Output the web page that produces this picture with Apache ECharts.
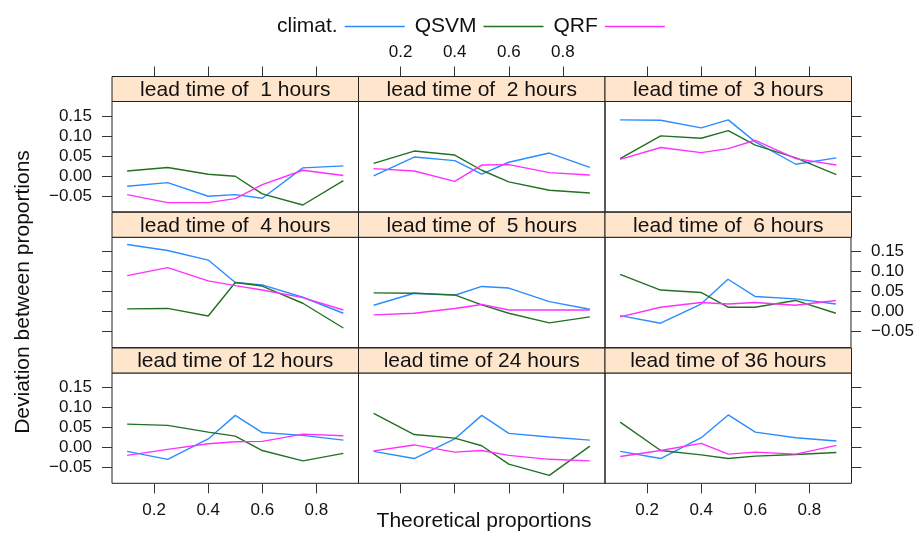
<!DOCTYPE html>
<html>
<head>
<meta charset="utf-8">
<script src="https://cdn.jsdelivr.net/npm/echarts@6/dist/echarts.min.js"></script>
<style>
  html, body { margin: 0; padding: 0; background: #fff; }
  #chart { width: 917px; height: 534px; }
</style>
</head>
<body>
<div id="chart"></div>
<script>
  // theoretical proportions (x of every point)
  const props = [0.1, 0.25, 0.4, 0.5, 0.6, 0.75, 0.9];
  const leadTimes = [1, 2, 3, 4, 5, 6, 12, 24, 36];
  const methods = ['climat.', 'QSVM', 'QRF'];
  const xTicks = [0.2, 0.4, 0.6, 0.8];
  const yTicks = [-0.05, 0, 0.05, 0.1, 0.15];

  // one row per lead time
  const climat = [
    [-0.026, -0.017, -0.051, -0.047, -0.056, 0.020, 0.025],
    [0.000, 0.047, 0.038, 0.004, 0.034, 0.057, 0.021],
    [0.140, 0.139, 0.120, 0.140, 0.085, 0.029, 0.045],
    [0.168, 0.153, 0.129, 0.073, 0.067, 0.036, -0.004],
    [0.016, 0.046, 0.041, 0.063, 0.059, 0.025, 0.006],
    [-0.010, -0.029, 0.019, 0.081, 0.038, 0.032, 0.019],
    [-0.010, -0.030, 0.021, 0.080, 0.037, 0.030, 0.018],
    [-0.010, -0.028, 0.021, 0.080, 0.035, 0.026, 0.018],
    [-0.010, -0.028, 0.024, 0.081, 0.038, 0.024, 0.016]
  ];
  const qsvm = [
    [0.012, 0.021, 0.004, -0.001, -0.045, -0.073, -0.012],
    [0.031, 0.062, 0.052, 0.014, -0.015, -0.036, -0.043],
    [0.043, 0.100, 0.094, 0.113, 0.077, 0.045, 0.003],
    [0.007, 0.008, -0.011, 0.073, 0.064, 0.021, -0.041],
    [0.047, 0.046, 0.042, 0.017, -0.004, -0.028, -0.013],
    [0.093, 0.054, 0.048, 0.011, 0.011, 0.028, -0.004],
    [0.058, 0.055, 0.038, 0.028, -0.008, -0.034, -0.015],
    [0.085, 0.032, 0.023, 0.004, -0.042, -0.070, 0.003],
    [0.063, -0.008, -0.019, -0.028, -0.022, -0.018, -0.013]
  ];
  const qrf = [
    [-0.047, -0.067, -0.067, -0.057, -0.022, 0.014, 0.001],
    [0.018, 0.012, -0.014, 0.027, 0.028, 0.008, 0.002],
    [0.041, 0.071, 0.058, 0.068, 0.089, 0.043, 0.027],
    [0.090, 0.110, 0.077, 0.065, 0.054, 0.035, 0.004],
    [-0.008, -0.004, 0.008, 0.018, 0.004, 0.004, 0.004],
    [-0.013, 0.011, 0.023, 0.019, 0.023, 0.016, 0.028],
    [-0.020, -0.005, 0.009, 0.014, 0.015, 0.033, 0.029],
    [-0.009, 0.006, -0.012, -0.008, -0.020, -0.030, -0.034],
    [-0.023, -0.008, 0.010, -0.017, -0.012, -0.017, 0.005]
  ];

  const FONT = "'Liberation Sans', Arial, sans-serif";
  const colors = ['#2b8cff', '#237023', '#ff30ff'];
  const allData = [climat, qsvm, qrf];

  const X_MIN = 0.044, X_MAX = 0.956, X_STEP = 0.004;
  const panelLeft = 112, panelW = 246.5, panelH = 110.3, stripH = 25;
  const rowTop = [101.5, 237.3, 373];

  // fine grid of positions for the tick-only category axes
  let xSlots = [];
  for (let k = 0; k <= Math.round((X_MAX - X_MIN) / X_STEP); k++) {
    xSlots.push((X_MIN + k * X_STEP).toFixed(3));
  }
  const isXTick = v => xTicks.some(t => Math.abs(parseFloat(v) - t) < 1e-6);

  let chart = echarts.init(document.getElementById('chart'));

  let grids = [], xAxes = [], yAxes = [], series = [], graphics = [];

  function fmtY(v) {
    return (v < 0 ? '\u2212' : '') + Math.abs(v).toFixed(2);
  }

  function tickAxisX(i, pos, showTick, showLabel, margin, offset) {
    return {
      type: 'category',
      gridIndex: i,
      position: pos,
      offset: offset,
      data: xSlots,
      boundaryGap: false,
      z: 20,
      axisLine: { show: false, onZero: false },
      splitLine: { show: false },
      axisTick: {
        show: showTick, length: 10,
        interval: (idx, v) => isXTick(v),
        lineStyle: { color: '#333', width: 1 }
      },
      axisLabel: {
        show: showLabel, margin: margin,
        interval: (idx, v) => isXTick(v),
        formatter: v => parseFloat(v).toFixed(1),
        fontFamily: FONT, fontSize: 17, color: '#111'
      }
    };
  }

  function axisY(i, pos, showTick, showLabel) {
    return {
      type: 'value',
      gridIndex: i,
      position: pos,
      min: -0.09,
      max: 0.186,
      z: 20,
      axisLine: { show: false, onZero: false },
      splitLine: { show: false },
      axisTick: {
        show: showTick, length: 10, customValues: yTicks,
        lineStyle: { color: '#333', width: 1 }
      },
      axisLabel: {
        show: showLabel, customValues: yTicks, margin: 20,
        fontFamily: FONT, fontSize: 17, color: '#111', formatter: fmtY
      }
    };
  }

  leadTimes.forEach((lt, i) => {
    let r = Math.floor(i / 3), c = i % 3;
    let left = panelLeft + c * panelW, top = rowTop[r];
    grids.push({
      left: left, top: top, width: panelW, height: panelH,
      show: true, borderColor: '#222', borderWidth: 1, backgroundColor: 'transparent'
    });

    // data axis (hidden) + bottom and top tick axes
    xAxes.push({
      type: 'value', gridIndex: i, min: X_MIN, max: X_MAX, show: false,
      axisLine: { onZero: false }, splitLine: { show: false }
    });
    xAxes.push(tickAxisX(i, 'bottom', r === 2, r === 2 && c !== 1, 19, 0));
    xAxes.push(tickAxisX(i, 'top', r === 0, r === 0 && c === 1, 16, stripH));

    yAxes.push(axisY(i, 'left', c === 0, c === 0 && r !== 1));
    yAxes.push(axisY(i, 'right', c === 2, c === 2 && r === 1));

    methods.forEach((m, k) => {
      series.push({
        name: m,
        type: 'line',
        xAxisIndex: 3 * i,
        yAxisIndex: 2 * i,
        data: props.map((p, j) => [p, allData[k][i][j]]),
        showSymbol: false,
        symbol: 'none',
        silent: true,
        color: colors[k],
        lineStyle: { color: colors[k], width: 1.4 }
      });
    });

    // strip above each panel
    let label = 'lead time of ' + (lt < 10 ? ' ' + lt : lt) + ' hours';
    graphics.push({
      type: 'rect',
      shape: { x: left, y: top - stripH, width: panelW, height: stripH },
      style: { fill: '#ffe5cc', stroke: '#222', lineWidth: 1 },
      z: 5
    });
    graphics.push({
      type: 'text',
      x: left + panelW / 2, y: top - stripH / 2 + 1,
      style: {
        text: label, font: '21px ' + FONT, fill: '#111',
        textAlign: 'center', textVerticalAlign: 'middle'
      },
      z: 6
    });
  });

  graphics.push({
    type: 'text', x: 23, y: 292, rotation: Math.PI / 2,
    style: {
      text: 'Deviation between proportions', font: '21px ' + FONT, fill: '#111',
      textAlign: 'center', textVerticalAlign: 'middle'
    }
  });
  graphics.push({
    type: 'text', x: 484, y: 521,
    style: {
      text: 'Theoretical proportions', font: '21px ' + FONT, fill: '#111',
      textAlign: 'center', textVerticalAlign: 'middle'
    }
  });

  let option = {
    animation: false,
    backgroundColor: '#fff',
    legend: {
      data: methods,
      left: 272,
      top: 11,
      align: 'right',
      icon: 'rect',
      itemWidth: 60,
      itemHeight: 1.5,
      itemGap: 10,
      selectedMode: false,
      textStyle: { fontFamily: FONT, fontSize: 21, color: '#111', padding: [0, 2, 0, 0] }
    },
    grid: grids,
    xAxis: xAxes,
    yAxis: yAxes,
    series: series,
    graphic: graphics
  };

  chart.setOption(option);
</script>
</body>
</html>
